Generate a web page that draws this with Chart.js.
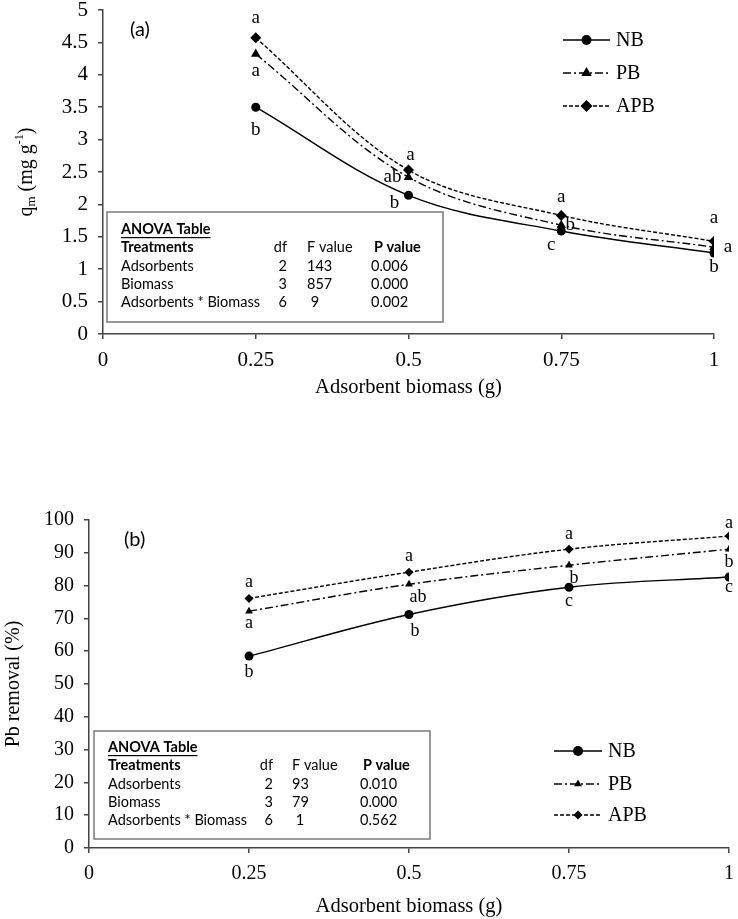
<!DOCTYPE html>
<html>
<head>
<meta charset="utf-8">
<script src="https://cdn.jsdelivr.net/npm/chart.js@4.4.1/dist/chart.umd.min.js"></script>
<style>
body { margin: 0; background: #fff; }
#wrapA { position: absolute; left: 0; top: 0; width: 738px; height: 400px; }
#wrapB { position: absolute; left: 0; top: 460px; width: 738px; height: 459px; }
</style>
</head>
<body>
<div id="wrapA"><canvas id="chartA" width="738" height="400"></canvas></div>
<div id="wrapB"><canvas id="chartB" width="738" height="459"></canvas></div>
<script>
const seriesNames = ['NB', 'PB', 'APB'];
const biomass = [0.25, 0.5, 0.75, 1];

const xTickValues = [0, 0.25, 0.5, 0.75, 1];
const xTickLabels = ['0', '0.25', '0.5', '0.75', '1'];
const qmTickValues = [0, 0.5, 1, 1.5, 2, 2.5, 3, 3.5, 4, 4.5, 5];
const qmTickLabels = ['0', '0.5', '1', '1.5', '2', '2.5', '3', '3.5', '4', '4.5', '5'];
const removalTickValues = [0, 10, 20, 30, 40, 50, 60, 70, 80, 90, 100];
const removalTickLabels = ['0', '10', '20', '30', '40', '50', '60', '70', '80', '90', '100'];

// (a) q_m, mg/g
const qmNB = [3.50, 2.14, 1.59, 1.25];
const qmPB = [4.32, 2.42, 1.68, 1.34];
const qmAPB = [4.57, 2.53, 1.83, 1.43];
const qmLettersNB = ['b', 'b', 'c', 'b'];
const qmLettersPB = ['a', 'ab', 'b', 'a'];
const qmLettersAPB = ['a', 'a', 'a', 'a'];

// (b) Pb removal, %
const removalNB = [58.5, 71.2, 79.5, 82.6];
const removalPB = [72.2, 80.4, 86.2, 91.1];
const removalAPB = [76.1, 84.1, 91.1, 95.1];
const removalLettersNB = ['b', 'b', 'c', 'c'];
const removalLettersPB = ['a', 'ab', 'b', 'b'];
const removalLettersAPB = ['a', 'a', 'a', 'a'];

// ANOVA tables
const anovaHeader = ['Treatments', 'df', 'F value', 'P value'];
const anovaTreatments = ['Adsorbents', 'Biomass', 'Adsorbents * Biomass'];
const anovaDf = ['2', '3', '6'];
const qmF = ['143', '857', ' 9'];
const qmP = ['0.006', '0.000', '0.002'];
const removalF = ['93', '79', ' 1'];
const removalP = ['0.010', '0.000', '0.562'];

const SERIF = '"Liberation Serif", "Times New Roman", serif';
const SANS = 'Lato, "Open Sans", sans-serif';

const lineStyles = [
    {borderDash: [], pointStyle: 'circle'},
    {borderDash: [8, 3, 2, 3], pointStyle: 'triangle'},
    {borderDash: [4, 2], pointStyle: 'rectRot'}
];

function makeDatasets(values, radii) {
    return values.map((vals, i) => ({
        label: seriesNames[i],
        data: biomass.map((x, j) => ({x: x, y: vals[j]})),
        borderColor: '#000',
        backgroundColor: '#000',
        borderWidth: 1.4,
        borderDash: lineStyles[i].borderDash,
        pointStyle: lineStyles[i].pointStyle,
        pointRadius: radii[i],
        pointBorderWidth: 0,
        tension: 0.35,
        fill: false
    }));
}

const overlay = {
    id: 'overlay',
    afterDraw(chart, args, o) {
        const ctx = chart.ctx;
        ctx.save();
        ctx.fillStyle = '#000';
        ctx.strokeStyle = '#000';

        // significance letters
        ctx.font = o.letterFont;
        ctx.textAlign = 'center';
        ctx.textBaseline = 'middle';
        o.letters.forEach((set, i) => {
            const meta = chart.getDatasetMeta(i);
            set.forEach((txt, j) => {
                const p = meta.data[j];
                const off = o.letterOffsets[i][j];
                ctx.fillText(txt, p.x + off[0], p.y + off[1]);
            });
        });

        // panel label
        ctx.font = '20px ' + SANS;
        ctx.textAlign = 'left';
        ctx.fillText(o.panel[0], o.panel[1], o.panel[2]);

        // legend
        ctx.font = '20px ' + SERIF;
        chart.data.datasets.forEach((ds, i) => {
            const y = o.legend.y[i];
            ctx.save();
            ctx.lineWidth = 1.4;
            ctx.setLineDash(ds.borderDash);
            ctx.beginPath();
            ctx.moveTo(o.legend.x0, y);
            ctx.lineTo(o.legend.x1, y);
            ctx.stroke();
            ctx.restore();
            Chart.helpers.drawPoint(ctx, {pointStyle: ds.pointStyle, radius: o.legend.radius[i], rotation: 0, borderWidth: 0},
                (o.legend.x0 + o.legend.x1) / 2, y);
            ctx.textAlign = 'left';
            ctx.fillText(ds.label, o.legend.x1 + 6, y + 1);
        });

        // axis titles
        const area = chart.chartArea;
        ctx.font = '20.5px ' + SERIF;
        ctx.textAlign = 'center';
        ctx.fillText('Adsorbent biomass (g)', (area.left + area.right) / 2, o.xTitleY);
        ctx.save();
        ctx.translate(o.yTitleX, (area.top + area.bottom) / 2);
        ctx.rotate(-Math.PI / 2);
        const parts = o.yTitle;
        let total = 0;
        parts.forEach(p => { ctx.font = p.size + 'px ' + SERIF; total += ctx.measureText(p.t).width; });
        let x = -total / 2;
        ctx.textAlign = 'left';
        parts.forEach(p => {
            ctx.font = p.size + 'px ' + SERIF;
            ctx.fillText(p.t, x, p.dy);
            x += ctx.measureText(p.t).width;
        });
        ctx.restore();

        // ANOVA table
        const t = o.anova;
        ctx.save();
        ctx.strokeStyle = '#808080';
        ctx.lineWidth = 1.6;
        ctx.strokeRect(t.box[0], t.box[1], t.box[2] - t.box[0], t.box[3] - t.box[1]);
        ctx.restore();
        ctx.textBaseline = 'middle';
        ctx.font = 'bold 14.5px ' + SANS;
        ctx.textAlign = 'left';
        ctx.fillText('ANOVA Table', t.cols[0], t.rows[0]);
        const w = ctx.measureText('ANOVA Table').width;
        ctx.fillRect(t.cols[0], t.rows[0] + 8, w, 1.2);
        ctx.fillText(anovaHeader[0], t.cols[0], t.rows[1]);
        ctx.font = '14.5px ' + SANS;
        ctx.textAlign = 'right';
        ctx.fillText(anovaHeader[1], t.cols[1], t.rows[1]);
        ctx.textAlign = 'left';
        ctx.fillText(anovaHeader[2], t.cols[2], t.rows[1]);
        ctx.font = 'bold 14.5px ' + SANS;
        ctx.fillText(anovaHeader[3], t.cols[3] + 3, t.rows[1]);
        ctx.font = '14.5px ' + SANS;
        anovaTreatments.forEach((name, k) => {
            const y = t.rows[k + 2];
            ctx.textAlign = 'left';
            ctx.fillText(name, t.cols[0], y);
            ctx.textAlign = 'right';
            ctx.fillText(anovaDf[k], t.cols[1], y);
            ctx.textAlign = 'left';
            ctx.fillText(t.f[k], t.cols[2], y);
            ctx.fillText(t.p[k], t.cols[3], y);
        });
        ctx.restore();
    }
};

function axisOptions(tickValues, tickLabels, min, max, fitSize, isX, pad, fontSize) {
    return {
        type: 'linear',
        min: min,
        max: max,
        afterBuildTicks: s => { s.ticks = tickValues.map(v => ({value: v})); },
        afterFit: s => {
            if (isX) {
                s.height = fitSize;
                s.paddingLeft = 0;
                s.paddingRight = 0;
            } else {
                s.width = fitSize;
                s.paddingTop = 0;
                s.paddingBottom = 0;
            }
        },
        ticks: {
            autoSkip: false,
            maxRotation: 0,
            padding: pad,
            color: '#000',
            font: {family: SERIF, size: fontSize},
            callback: (v, i) => tickLabels[i]
        },
        grid: {drawOnChartArea: false, drawTicks: true, tickLength: 5, color: '#444', lineWidth: 1.5},
        border: {color: '#444', width: 1.5}
    };
}

function makeChart(id, cfg) {
    return new Chart(document.getElementById(id), {
        type: 'line',
        data: {datasets: makeDatasets(cfg.values, cfg.radii)},
        options: {
            responsive: false,
            animation: false,
            layout: {padding: cfg.padding},
            plugins: {legend: {display: false}, tooltip: {enabled: false}, overlay: cfg.overlay},
            scales: {
                x: axisOptions(xTickValues, xTickLabels, 0, 1, cfg.xHeight, true, 9, cfg.tickSize),
                y: axisOptions(cfg.yValues, cfg.yLabels, cfg.yValues[0], cfg.yValues[cfg.yValues.length - 1], cfg.yWidth, false, 10, cfg.tickSize)
            }
        },
        plugins: [overlay]
    });
}

makeChart('chartA', {
    values: [qmNB, qmPB, qmAPB],
    radii: [4.5, 5.5, 5.5],
    padding: {top: 10, right: 24, left: 0, bottom: 0},
    xHeight: 66,
    yWidth: 103,
    tickSize: 21,
    yValues: qmTickValues,
    yLabels: qmTickLabels,
    overlay: {
        letters: [qmLettersNB, qmLettersPB, qmLettersAPB],
        letterOffsets: [
            [[0, 23], [-14, 8], [-10, 14], [0, 14]],
            [[0, 17], [-16, 0], [9, 0], [14, 0]],
            [[0, -20], [2, -15], [0, -18], [0, -23]]
        ],
        letterFont: '19px ' + SERIF,
        panel: ['(a)', 130, 30],
        legend: {x0: 563, x1: 610, y: [40, 73, 106], radius: [5, 6, 6]},
        xTitleY: 388,
        yTitleX: 27,
        yTitle: [
            {t: 'q', size: 20, dy: 0},
            {t: 'm', size: 13, dy: 5},
            {t: ' (mg g', size: 20, dy: 0},
            {t: '-1', size: 12, dy: -7},
            {t: ')', size: 20, dy: 0}
        ],
        anova: {box: [107, 212, 443, 322], rows: [229, 247, 266, 284, 302], cols: [121, 287, 307, 371], f: qmF, p: qmP}
    }
});

makeChart('chartB', {
    values: [removalNB, removalPB, removalAPB],
    radii: [4.5, 4.5, 4.5],
    padding: {top: 60, right: 9, left: 0, bottom: 0},
    xHeight: 71,
    yWidth: 89,
    tickSize: 20,
    yValues: removalTickValues,
    yLabels: removalTickLabels,
    overlay: {
        letters: [removalLettersNB, removalLettersPB, removalLettersAPB],
        letterOffsets: [
            [[0, 16], [6, 17], [0, 14], [0, 10]],
            [[0, 12], [9, 13], [5, 13], [0, 13]],
            [[0, -16], [0, -16], [0, -15], [0, -13]]
        ],
        letterFont: '18px ' + SERIF,
        panel: ['(b)', 124, 80],
        legend: {x0: 554, x1: 602, y: [291, 324, 355], radius: [5, 4.5, 4.5]},
        xTitleY: 447,
        yTitleX: 14,
        yTitle: [{t: 'Pb removal (%)', size: 20, dy: 0}],
        anova: {box: [94, 271, 430, 379], rows: [287, 305, 324, 342, 360], cols: [108, 273, 292, 360], f: removalF, p: removalP}
    }
});
</script>
</body>
</html>
